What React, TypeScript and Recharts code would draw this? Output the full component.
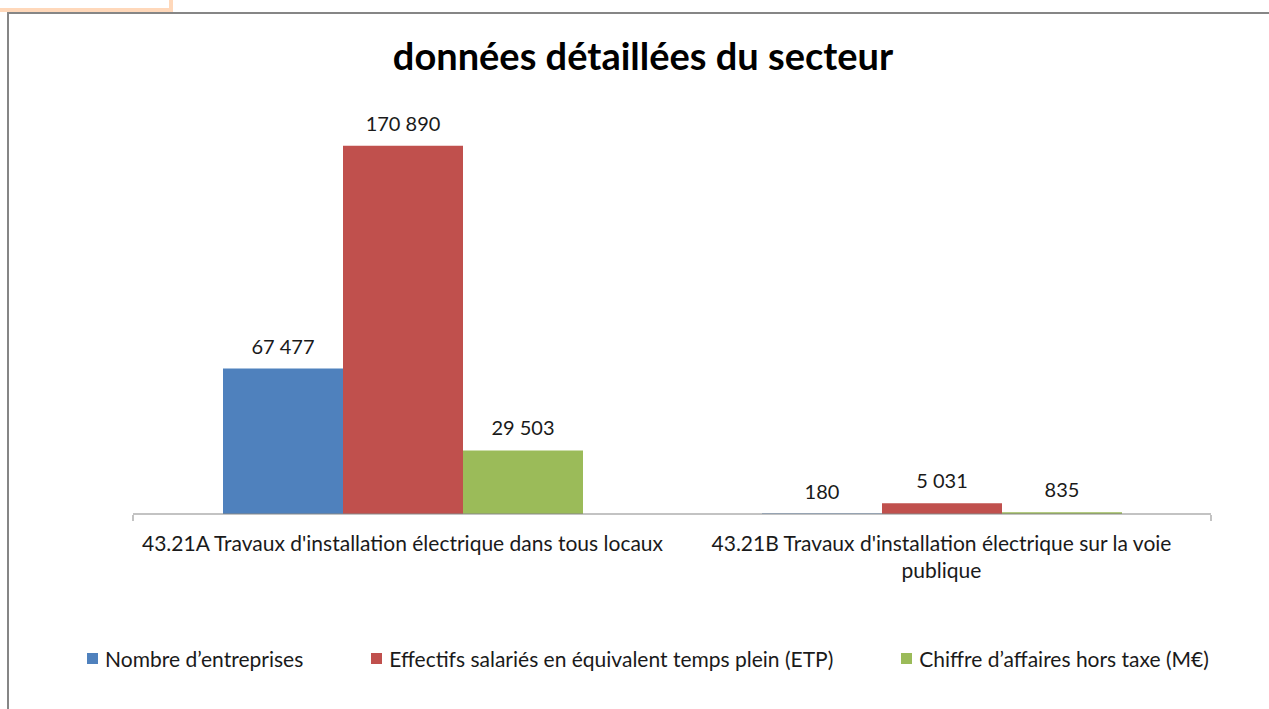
import { BarChart, Bar, XAxis, YAxis, LabelList } from "recharts";

const categories = [
  "43.21A Travaux d'installation électrique dans tous locaux",
  "43.21B Travaux d'installation électrique sur la voie publique",
];
const entreprises = [67477, 180];
const effectifs = [170890, 5031];
const chiffre = [29503, 835];
const seriesNames = [
  "Nombre d’entreprises",
  "Effectifs salariés en équivalent temps plein (ETP)",
  "Chiffre d’affaires hors taxe (M€)",
];
const seriesColors = ["#4F81BD", "#C0504D", "#9BBB59"];
const edgeTicks = [0, 1, 2];

const data = categories.map((name, i) => ({
  name,
  entreprises: entreprises[i],
  effectifs: effectifs[i],
  chiffre: chiffre[i],
}));

const FONT = "Lato, 'Open Sans', sans-serif";
const TXT = 21;
const LBL = 20;

const fmt = (v: any) => String(v).replace(/\B(?=(\d{3})+(?!\d))/g, " ");

let ctx: CanvasRenderingContext2D | null = null;
const textWidth = (s: string) => {
  if (!ctx) ctx = document.createElement("canvas").getContext("2d");
  if (!ctx) return s.length * TXT * 0.5;
  ctx.font = `${TXT}px Lato`;
  return ctx.measureText(s).width;
};

// coupe le libellé en lignes qui tiennent dans la largeur d'une catégorie
const wrap = (label: string, maxW: number) => {
  const lines: string[] = [];
  let cur = "";
  label.split(" ").forEach((w) => {
    const test = cur ? cur + " " + w : w;
    if (cur && textWidth(test) > maxW) {
      lines.push(cur);
      cur = w;
    } else cur = test;
  });
  if (cur) lines.push(cur);
  return lines;
};

const CategoryTick = (props: any) => {
  const { x, y, payload } = props;
  const lines = wrap(String(payload.value), 535);
  return (
    <text x={x} y={y + 31} textAnchor="middle" fill="#1a1a1a" fontSize={TXT} fontFamily={FONT}>
      {lines.map((l, i) => (
        <tspan key={i} x={x} dy={i === 0 ? 0 : 27}>
          {l}
        </tspan>
      ))}
    </text>
  );
};

const ChartLegend = () => (
  <div
    style={{
      position: "absolute",
      left: 0,
      top: 646,
      width: 1269,
      display: "flex",
      justifyContent: "center",
      paddingLeft: 27,
      boxSizing: "border-box",
    }}
  >
    {seriesNames.map((n, i) => (
      <div
        key={n}
        style={{
          display: "flex",
          alignItems: "center",
          marginRight: i < seriesNames.length - 1 ? 68 : 0,
          fontSize: TXT,
          fontFamily: FONT,
          color: "#1a1a1a",
        }}
      >
        <span style={{ width: 11, height: 11, background: seriesColors[i], marginRight: 7, display: "inline-block" }} />
        {n}
      </div>
    ))}
  </div>
);

export default function App() {
  return (
    <div style={{ position: "absolute", left: 0, top: 0, width: 1269, height: 709, background: "#fff", overflow: "hidden" }}>
      <div style={{ position: "absolute", left: -4, top: -4, width: 169, height: 8, border: "4px solid #FFD8BA" }} />
      <div
        style={{
          position: "absolute",
          left: 7,
          top: 12,
          width: 1300,
          height: 800,
          borderTop: "2px solid #868686",
          borderLeft: "2px solid #868686",
        }}
      />
      <div
        style={{
          position: "absolute",
          left: 0,
          top: 32,
          width: 1286,
          textAlign: "center",
          fontFamily: FONT,
          fontWeight: 700,
          fontSize: 38,
          color: "#000",
        }}
      >
        données détaillées du secteur
      </div>
      <div style={{ position: "absolute", left: 0, top: 0 }}>
        <BarChart
          width={1269}
          height={709}
          data={data}
          margin={{ top: 126, right: 58, bottom: 193, left: 133 }}
          barCategoryGap={90}
          barGap={0}
        >
          <XAxis
            dataKey="name"
            height={1}
            tickLine={false}
            tickSize={6}
            tickMargin={0}
            stroke="#878787"
            interval={0}
            tick={<CategoryTick />}
          />
          <XAxis
            xAxisId="edge"
            type="number"
            domain={[0, categories.length]}
            ticks={edgeTicks}
            height={1}
            axisLine={false}
            tick={() => <g />}
            tickLine={{ stroke: "#878787" }}
            tickSize={6}
            stroke="#878787"
          />
          <YAxis hide width={0} domain={[0, 180000]} />
          <Bar dataKey="entreprises" name={seriesNames[0]} fill={seriesColors[0]} isAnimationActive={false}>
            <LabelList dataKey="entreprises" position="top" offset={15} formatter={fmt} fill="#1a1a1a" fontSize={LBL} fontFamily={FONT} />
          </Bar>
          <Bar dataKey="effectifs" name={seriesNames[1]} fill={seriesColors[1]} isAnimationActive={false}>
            <LabelList dataKey="effectifs" position="top" offset={15} formatter={fmt} fill="#1a1a1a" fontSize={LBL} fontFamily={FONT} />
          </Bar>
          <Bar dataKey="chiffre" name={seriesNames[2]} fill={seriesColors[2]} isAnimationActive={false}>
            <LabelList dataKey="chiffre" position="top" offset={15} formatter={fmt} fill="#1a1a1a" fontSize={LBL} fontFamily={FONT} />
          </Bar>
        </BarChart>
      </div>
      <ChartLegend />
    </div>
  );
}
